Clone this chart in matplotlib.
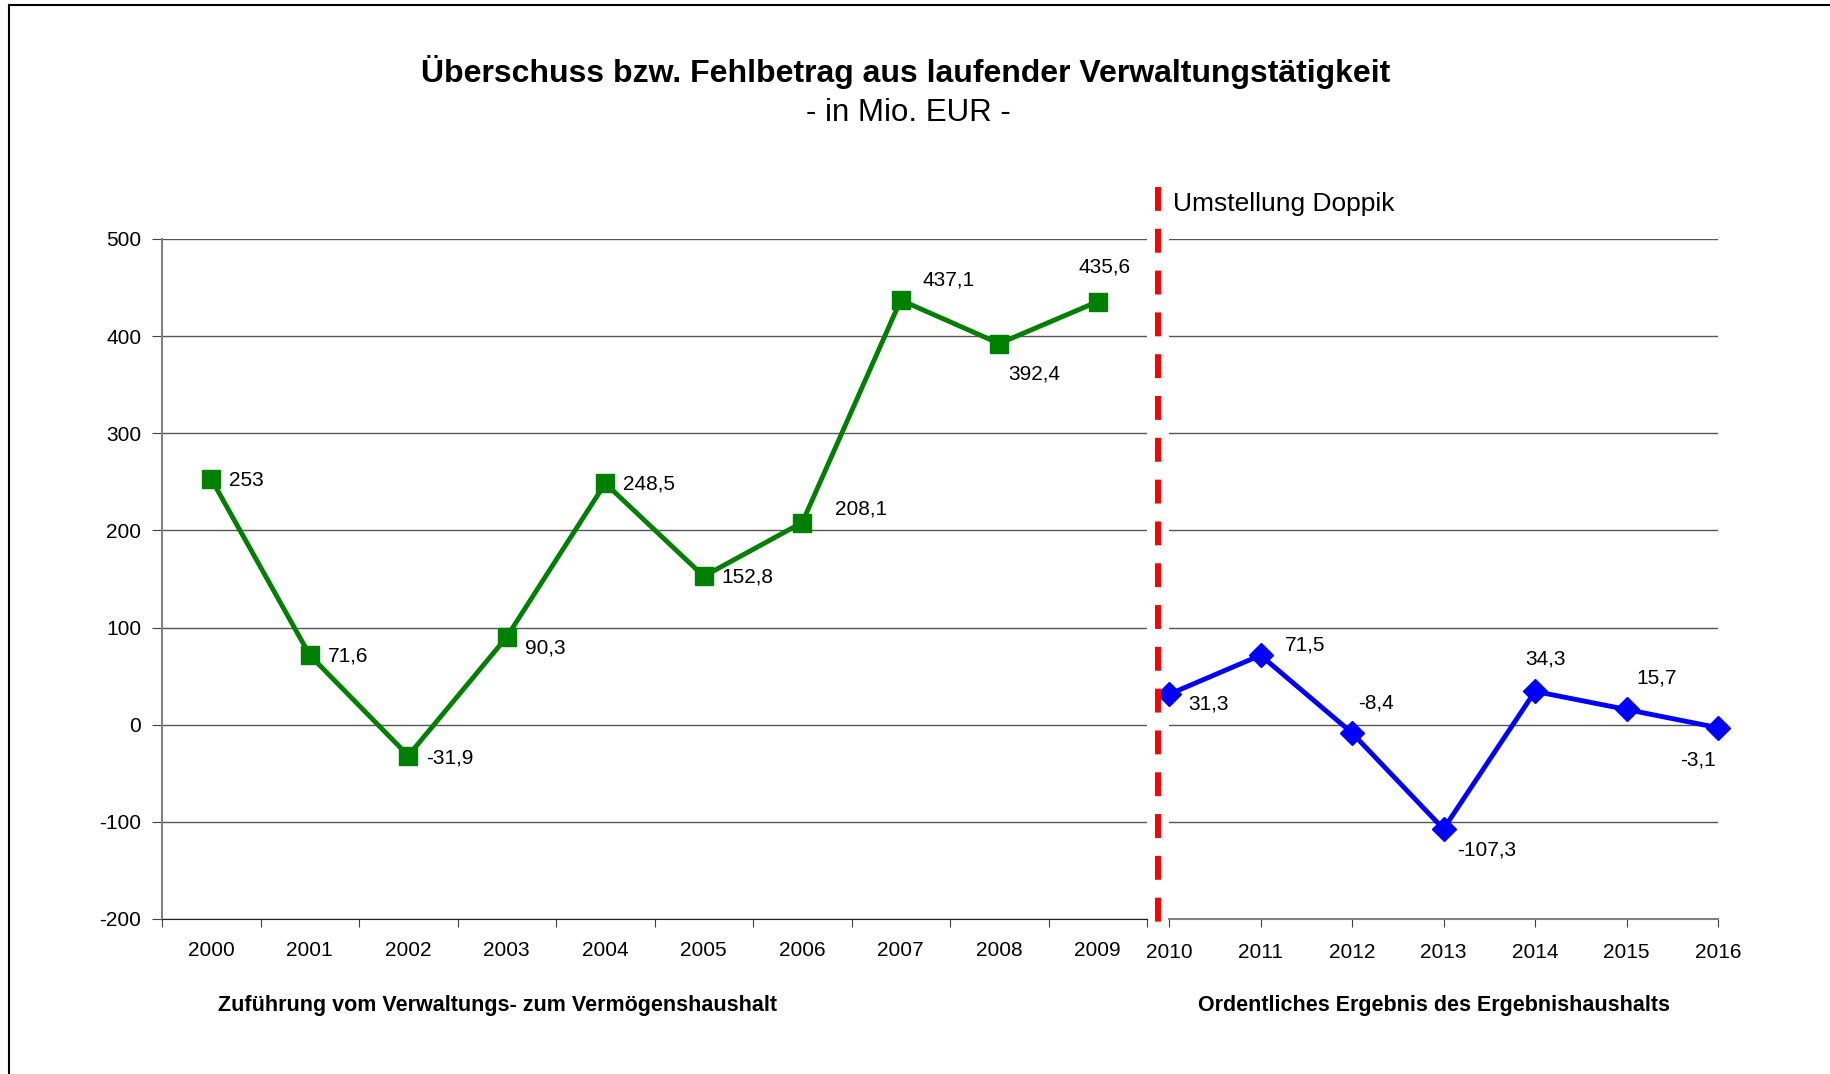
import matplotlib
matplotlib.use("Agg")
import matplotlib.pyplot as plt
from matplotlib.lines import Line2D
import numpy as np

plt.rcParams['font.family'] = ['Liberation Sans', 'DejaVu Sans']
plt.rcParams['axes.unicode_minus'] = False

# Daten
jahre_alt = ['2000', '2001', '2002', '2003', '2004', '2005', '2006', '2007', '2008', '2009']
werte_alt = [253, 71.6, -31.9, 90.3, 248.5, 152.8, 208.1, 437.1, 392.4, 435.6]
labels_alt = ['253', '71,6', '-31,9', '90,3', '248,5', '152,8', '208,1', '437,1', '392,4', '435,6']

jahre_neu = [2010, 2011, 2012, 2013, 2014, 2015, 2016]
werte_neu = [31.3, 71.5, -8.4, -107.3, 34.3, 15.7, -3.1]
labels_neu = ['31,3', '71,5', '-8,4', '-107,3', '34,3', '15,7', '-3,1']

# Lage der Beschriftungen (Pixel-Versatz, ha)
pos_alt = [(18, -2, 'left'), (18, -1, 'left'), (18, -2, 'left'), (18, -11, 'left'),
           (18, -1, 'left'), (18, -1, 'left'), (33, 14, 'left'), (22, 20, 'left'),
           (9, -30, 'left'), (7, 35, 'center')]
pos_neu = [(19, -10, 'left'), (24, 10, 'left'), (6, 30, 'left'), (14, -21, 'left'),
           (11, 32, 'center'), (10, 31, 'left'), (-2, -32, 'right')]

fig = plt.figure(figsize=(18.3, 10.74), dpi=100)

grid_c = '#555555'

# linker Teil: Zuführung
ax1 = fig.add_axes([162/1830, 1-919/1074, (1147-162)/1830, (919-239)/1074])
x1 = np.arange(len(werte_alt))
ax1.plot(x1, werte_alt, color='#008000', lw=3.5, marker='s', ms=13, zorder=3, clip_on=False)
ax1.set_xlim(-0.5, 9.5)
ax1.set_ylim(-200, 500)
ax1.set_yticks(range(-200, 501, 100))
ax1.set_xticks(np.arange(-0.5, 10, 1))
ax1.set_xticklabels([])
ax1.set_xticks(x1, minor=True)
ax1.set_xticklabels(jahre_alt, minor=True)
ax1.tick_params(axis='x', which='major', length=6, color='#404040')
ax1.tick_params(axis='x', which='minor', length=0, pad=16, labelsize=15)
ax1.tick_params(axis='y', length=7, pad=8, labelsize=15, color='#404040')
ax1.grid(axis='y', color=grid_c, lw=1)
ax1.set_axisbelow(True)
for s in ['top', 'right']:
    ax1.spines[s].set_visible(False)
ax1.spines['left'].set_color('#808080')
ax1.spines['left'].set_linewidth(1.5)
ax1.spines['bottom'].set_color('#202020')
for xi, v, t, p in zip(x1, werte_alt, labels_alt, pos_alt):
    ax1.annotate(t, (xi, v), xytext=(p[0], p[1]), textcoords='offset pixels',
                 ha=p[2], va='center', fontsize=15)

# rechter Teil: Ergebnishaushalt
ax2 = fig.add_axes([1169/1830, 1-919/1074, (1718-1169)/1830, (919-239)/1074])
ax2.plot(jahre_neu, werte_neu, color='#0000FF', lw=3.5, marker='D', ms=12, zorder=3, clip_on=False)
ax2.set_xlim(2010, 2016)
ax2.set_ylim(-200, 500)
ax2.set_yticks(range(-200, 501, 100))
ax2.set_xticks(jahre_neu)
ax2.set_xticklabels([str(j) for j in jahre_neu])
ax2.tick_params(axis='x', length=6, pad=11, labelsize=15, color='#404040')
ax2.tick_params(axis='y', length=0, labelleft=False)
ax2.grid(axis='y', color=grid_c, lw=1)
ax2.set_axisbelow(True)
for s in ['top', 'right', 'left']:
    ax2.spines[s].set_visible(False)
ax2.spines['bottom'].set_color('#808080')
ax2.spines['bottom'].set_linewidth(1.5)
for xi, v, t, p in zip(jahre_neu, werte_neu, labels_neu, pos_neu):
    ax2.annotate(t, (xi, v), xytext=(p[0], p[1]), textcoords='offset pixels',
                 ha=p[2], va='center', fontsize=15)

# Trennlinie Doppik
xr = 1158/1830
fig.add_artist(Line2D([xr, xr], [1-187/1074, 1-928/1074], color='#FF0000',
                      lw=4.3, dashes=(4, 3), transform=fig.transFigure))
fig.text(1173/1830, 1-204/1074, 'Umstellung Doppik', fontsize=19, ha='left', va='center')

# Titel
fig.text(906/1830, 1-72/1074, 'Überschuss bzw. Fehlbetrag aus laufender Verwaltungstätigkeit',
         fontsize=23, fontweight='bold', ha='center', va='center')
fig.text(908/1830, 1-113/1074, '- in Mio. EUR -', fontsize=22.5, ha='center', va='center')

# Bereichsbeschriftungen
fig.text(497/1830, 1-1006/1074, 'Zuführung vom Verwaltungs- zum Vermögenshaushalt',
         fontsize=15.5, fontweight='bold', ha='center', va='center')
fig.text(1434/1830, 1-1006/1074, 'Ordentliches Ergebnis des Ergebnishaushalts',
         fontsize=15.5, fontweight='bold', ha='center', va='center')

# Rahmen oben und links
fig.add_artist(Line2D([8.5/1830, 1], [1-5/1074, 1-5/1074], color='black', lw=1.5, transform=fig.transFigure))
fig.add_artist(Line2D([8.5/1830, 8.5/1830], [0, 1-5/1074], color='black', lw=1.5, transform=fig.transFigure))

fig.savefig('out.png', dpi=100)
